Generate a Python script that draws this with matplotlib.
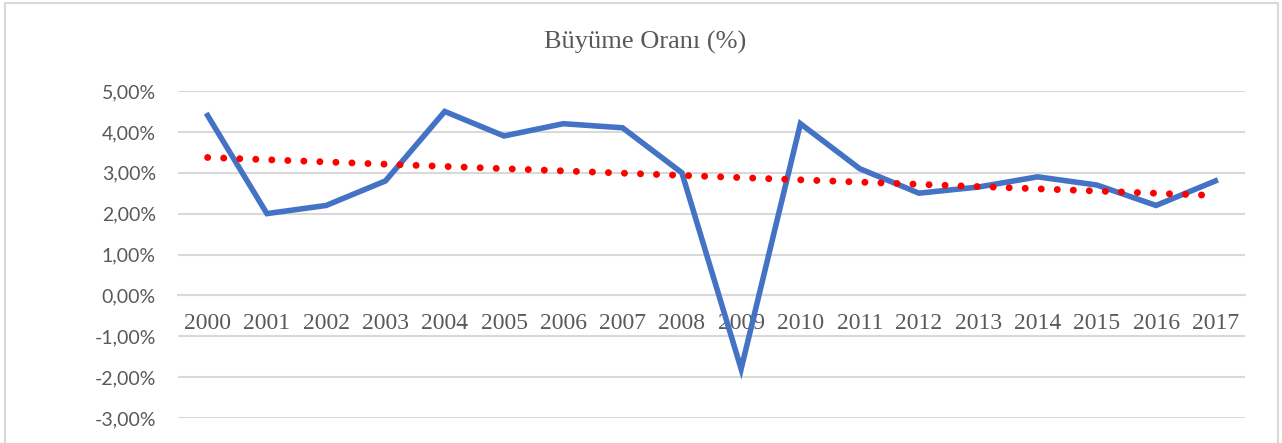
import matplotlib
matplotlib.use("Agg")
import matplotlib.pyplot as plt
import numpy as np
from matplotlib.patches import Rectangle

years = ["2000", "2001", "2002", "2003", "2004", "2005", "2006", "2007", "2008",
         "2009", "2010", "2011", "2012", "2013", "2014", "2015", "2016", "2017"]
growth = [4.4, 2.0, 2.2, 2.8, 4.5, 3.9, 4.2, 4.1, 3.0,
          -1.8, 4.2, 3.1, 2.5, 2.65, 2.9, 2.7, 2.2, 2.8]
y_ticks = [-3, -2, -1, 0, 1, 2, 3, 4, 5]
y_tick_labels = ["-3,00%", "-2,00%", "-1,00%", "0,00%", "1,00%", "2,00%", "3,00%", "4,00%", "5,00%"]
title = "Büyüme Oranı (%)"

W, H = 1282, 443
fig = plt.figure(figsize=(W / 100, H / 100), dpi=100)
fig.patches.append(Rectangle((5 / W, -0.01), (1278 - 5) / W, (H - 3) / H + 0.01,
                             transform=fig.transFigure, fill=False,
                             edgecolor="#D9D9D9", linewidth=1.5))

ax = fig.add_axes([178 / W, (H - 418) / H, (1245 - 178) / W, (418 - 91) / H])
x = np.arange(len(years))

ax.spines["bottom"].set_position(("data", 0))
ax.spines["bottom"].set_color("#D9D9D9")
ax.spines["bottom"].set_linewidth(1.5)
for s in ["top", "right", "left"]:
    ax.spines[s].set_visible(False)

ax.plot(x, growth, color="#4472C4", linewidth=4, solid_joinstyle="miter", zorder=3)

coef = np.polyfit(x, growth, 1)
trend = np.polyval(coef, x)
ax.plot(x, trend, color="#FF0000", linewidth=5, linestyle=(0, (0.01, 2.3)),
        dash_capstyle="round", zorder=4)

ax.set_xlim(-0.5, len(years) - 0.5)
ax.set_ylim(-3, 5)
ax.set_yticks(y_ticks)
ax.set_yticklabels(y_tick_labels, fontfamily="Lato", fontsize=14, color="#595959")
ax.grid(axis="y", color="#D9D9D9", linewidth=1.5)
ax.set_axisbelow(True)

ax.set_xticks(x)
ax.set_xticklabels(years, fontfamily="Liberation Serif", fontsize=17, color="#595959")
ax.tick_params(axis="x", length=0, pad=13)
ax.tick_params(axis="y", length=0, pad=16)

fig.text(645 / W, 1 - 42 / H, title, ha="center", va="center",
         fontfamily="Liberation Serif", fontsize=19, color="#595959")

fig.savefig("out.png", dpi=100)
